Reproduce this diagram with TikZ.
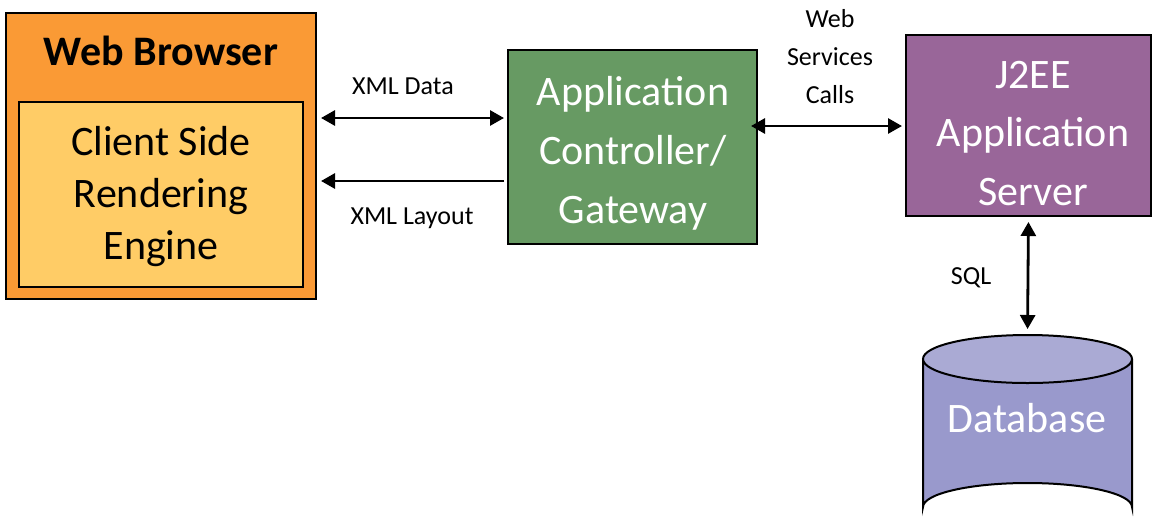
\documentclass[tikz,border=0pt]{standalone}
\usepackage{fontspec}
\setmainfont{Carlito}
\usetikzlibrary{arrows.meta,calc}
\definecolor{orangeout}{HTML}{FA9A35}
\definecolor{orangein}{HTML}{FFCC66}
\definecolor{greenbox}{HTML}{679A63}
\definecolor{purplebox}{HTML}{996699}
\definecolor{dbbody}{HTML}{9999CC}
\definecolor{dbtop}{HTML}{AAAAD4}
\begin{document}
\begin{tikzpicture}[x=1pt,y=-1pt,
  box/.style={draw=black, line width=2pt, inner sep=0pt},
  bigtext/.style={align=center, inner sep=0pt, font=\fontsize{42}{52}\selectfont},
  lbl/.style={align=center, inner sep=0pt, font=\fontsize{26}{38}\selectfont},
  tip/.style={Triangle[length=14pt,width=15pt]},
  both/.style={line width=2.8pt, {Triangle[length=14pt,width=15pt]}-{Triangle[length=14pt,width=15pt]}},
  one/.style={line width=2.8pt, -{Triangle[length=14pt,width=15pt]}}]
\useasboundingbox (0,0) rectangle (1154,531);
% boxes
\node[box, fill=orangeout, minimum width=310pt, minimum height=286pt] (browser) at (161,156) {};
\node[bigtext, font=\bfseries\fontsize{42}{52}\selectfont] (browsertitle) at (161,51) {Web Browser};
\node[box, fill=orangein, minimum width=284pt, minimum height=185pt] (engine) at (161,194.5) {};
\node[bigtext] (enginetext) at (161,196.5) {Client Side\\Rendering\\Engine};
\node[box, fill=greenbox, minimum width=249pt, minimum height=194pt] (gateway) at (632.5,147) {};
\node[bigtext, text=white, font=\fontsize{42}{59}\selectfont] (gatewaytext) at (633,153.5) {Application\\Controller/\\Gateway};
\node[box, fill=purplebox, minimum width=245pt, minimum height=181pt] (server) at (1028.5,125.5) {};
\node[bigtext, text=white, font=\fontsize{42}{58.5}\selectfont] (servertext) at (1033,133.5) {J2EE\\Application\\Server};
% database cylinder
\fill[dbbody] (923,359) -- (923,507) arc[start angle=180,end angle=360,x radius=104.5,y radius=24] -- (1132,359) -- cycle;
\draw[line width=2pt] (923,359) -- (923,507) arc[start angle=180,end angle=360,x radius=104.5,y radius=24] -- (1132,359);
\draw[line width=2pt, fill=dbtop] (1027.5,359) ellipse[x radius=104.5, y radius=24];
\coordinate (dbt) at (1027.5,335);
\node[bigtext, text=white] (db) at (1027,418) {Database};
% connectors
\coordinate (yd) at (0,118);
\coordinate (yl) at (0,181);
\coordinate (yw) at (0,126);
\draw[both, shorten <=4pt, shorten >=3pt] (browser.east |- yd) -- (gateway.west |- yd);
\draw[one, shorten <=3pt, shorten >=4pt] (gateway.west |- yl) -- (browser.east |- yl);
\draw[both, shorten <=-7pt, shorten >=3pt] (gateway.east |- yw) -- (server.west |- yw);
\draw[both, shorten <=5pt, shorten >=6pt] ($(server.south)+(0,0)$) -- (dbt);
% labels
\node[lbl] (ldata) at (403,86) {XML Data};
\node[lbl] (llayout) at (412,218) {XML Layout};
\node[lbl] (lws) at (830,57) {Web\\Services\\Calls};
\node[lbl] (lsql) at (971,278) {SQL};
\end{tikzpicture}
\end{document}
